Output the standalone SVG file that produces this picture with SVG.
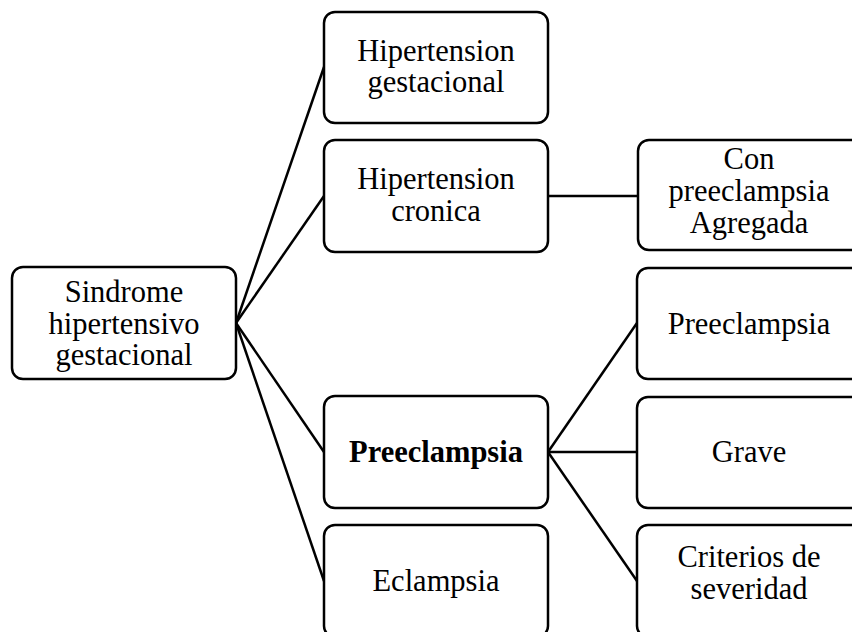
<svg xmlns="http://www.w3.org/2000/svg" width="852" height="632" viewBox="0 0 852 632">
<style>
.box{fill:#fff;stroke:#000;stroke-width:2.5}
.t{font-family:"Liberation Serif","Times New Roman",serif;font-size:30.5px;fill:#000;text-anchor:middle}
.b{font-weight:bold}
.c{stroke:#000;stroke-width:2.5;fill:none}
</style>
<rect width="852" height="632" fill="#fff"/>
<g id="connectors">
<line class="c" x1="236" y1="323" x2="324" y2="67"/>
<line class="c" x1="236" y1="323" x2="324" y2="196"/>
<line class="c" x1="236" y1="323" x2="324" y2="452"/>
<line class="c" x1="236" y1="323" x2="324" y2="581"/>
<line class="c" x1="548" y1="196" x2="638" y2="196"/>
<line class="c" x1="548" y1="452" x2="637" y2="323"/>
<line class="c" x1="548" y1="452" x2="637" y2="452"/>
<line class="c" x1="548" y1="452" x2="637" y2="581"/>
</g>
<g id="root">
<rect class="box" x="12" y="267" width="224" height="112" rx="11"/>
<text class="t" x="124" y="302">Sindrome</text>
<text class="t" x="124" y="333.5">hipertensivo</text>
<text class="t" x="124" y="365">gestacional</text>
</g>
<g id="hip-gest">
<rect class="box" x="324" y="12" width="224" height="111" rx="11"/>
<text class="t" x="436" y="61">Hipertension</text>
<text class="t" x="436" y="92">gestacional</text>
</g>
<g id="hip-cron">
<rect class="box" x="324" y="140" width="224" height="112" rx="11"/>
<text class="t" x="436" y="189">Hipertension</text>
<text class="t" x="436" y="221">cronica</text>
</g>
<g id="preeclampsia-main">
<rect class="box" x="324" y="396" width="224" height="112" rx="11"/>
<text class="t b" x="436" y="462">Preeclampsia</text>
</g>
<g id="eclampsia">
<rect class="box" x="324" y="525" width="224" height="112" rx="11"/>
<text class="t" x="436" y="591">Eclampsia</text>
</g>
<g id="con-preeclampsia">
<rect class="box" x="638" y="140" width="224" height="110" rx="11"/>
<text class="t" x="749" y="169">Con</text>
<text class="t" x="749" y="201">preeclampsia</text>
<text class="t" x="749" y="233">Agregada</text>
</g>
<g id="preeclampsia-sub">
<rect class="box" x="637" y="268" width="225" height="111" rx="11"/>
<text class="t" x="749" y="334">Preeclampsia</text>
</g>
<g id="grave">
<rect class="box" x="637" y="397" width="225" height="111" rx="11"/>
<text class="t" x="749" y="462">Grave</text>
</g>
<g id="criterios">
<rect class="box" x="637" y="525" width="225" height="112" rx="11"/>
<text class="t" x="749" y="567">Criterios de</text>
<text class="t" x="749" y="598.5">severidad</text>
</g>
</svg>
